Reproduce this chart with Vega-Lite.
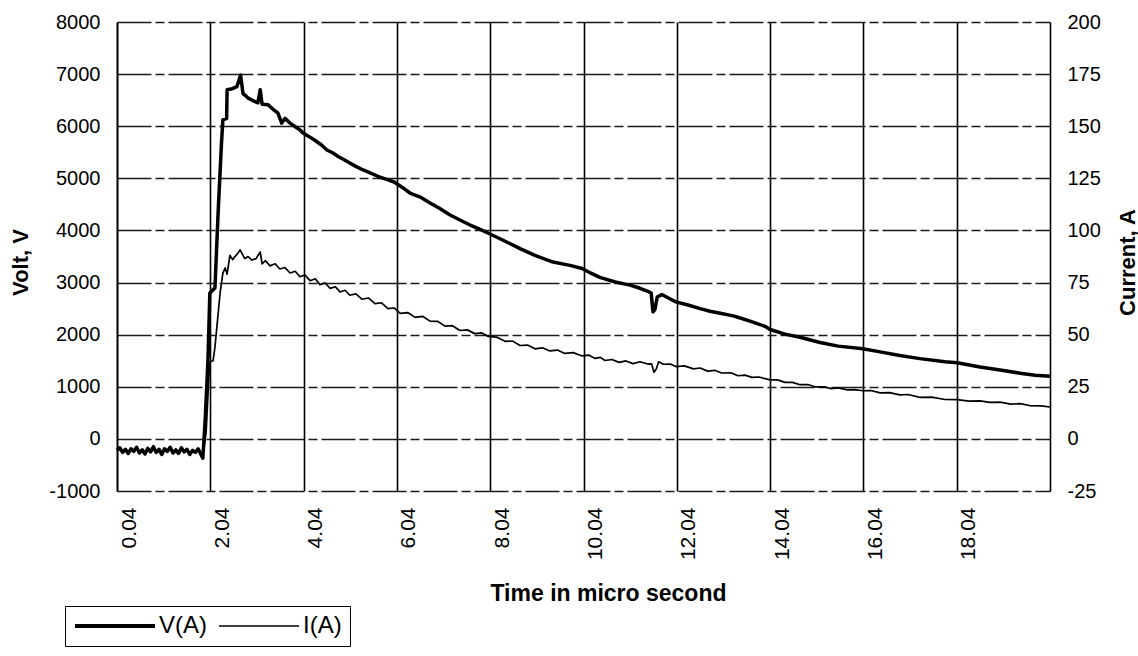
{
  "$schema": "https://vega.github.io/schema/vega-lite/v6.json",
  "width": 933,
  "height": 469,
  "autosize": {"type": "none"},
  "padding": {"left": 117, "top": 22, "right": 88, "bottom": 165},
  "background": "white",
  "config": {
    "font": "Liberation Sans",
    "view": {"stroke": null},
    "axis": {
      "labelFont": "Liberation Sans",
      "labelFontSize": 20,
      "labelColor": "black",
      "titleFont": "Liberation Sans",
      "titleFontSize": 22,
      "titleFontWeight": "bold",
      "titleColor": "black",
      "domainColor": "black",
      "domainWidth": 1.6,
      "ticks": false
    }
  },
  "datasets": {
    "d": [
      {"t":0.04,"s":"V(A)","v":-220},{"t":0.1,"s":"V(A)","v":-170},{"t":0.16,"s":"V(A)","v":-260},{"t":0.22,"s":"V(A)","v":-200},{"t":0.28,"s":"V(A)","v":-280},{"t":0.34,"s":"V(A)","v":-190},{"t":0.4,"s":"V(A)","v":-240},{"t":0.46,"s":"V(A)","v":-160},{"t":0.52,"s":"V(A)","v":-270},{"t":0.58,"s":"V(A)","v":-210},{"t":0.64,"s":"V(A)","v":-290},{"t":0.7,"s":"V(A)","v":-180},{"t":0.76,"s":"V(A)","v":-250},{"t":0.82,"s":"V(A)","v":-150},{"t":0.88,"s":"V(A)","v":-260},{"t":0.94,"s":"V(A)","v":-200},{"t":1.0,"s":"V(A)","v":-300},{"t":1.06,"s":"V(A)","v":-190},{"t":1.12,"s":"V(A)","v":-240},{"t":1.18,"s":"V(A)","v":-160},{"t":1.24,"s":"V(A)","v":-270},{"t":1.3,"s":"V(A)","v":-210},{"t":1.36,"s":"V(A)","v":-280},{"t":1.42,"s":"V(A)","v":-170},{"t":1.48,"s":"V(A)","v":-250},{"t":1.54,"s":"V(A)","v":-200},{"t":1.6,"s":"V(A)","v":-300},{"t":1.66,"s":"V(A)","v":-220},{"t":1.72,"s":"V(A)","v":-260},{"t":1.78,"s":"V(A)","v":-190},{"t":1.84,"s":"V(A)","v":-300},{"t":1.88,"s":"V(A)","v":-370},
      {"t":1.93,"s":"V(A)","v":360},{"t":1.99,"s":"V(A)","v":1510},{"t":2.03,"s":"V(A)","v":2800},{"t":2.10,"s":"V(A)","v":2860},{"t":2.14,"s":"V(A)","v":2900},{"t":2.21,"s":"V(A)","v":4390},{"t":2.28,"s":"V(A)","v":5680},{"t":2.31,"s":"V(A)","v":6120},{"t":2.39,"s":"V(A)","v":6150},{"t":2.40,"s":"V(A)","v":6700},{"t":2.51,"s":"V(A)","v":6720},{"t":2.61,"s":"V(A)","v":6760},{"t":2.69,"s":"V(A)","v":6980},{"t":2.74,"s":"V(A)","v":6630},{"t":2.85,"s":"V(A)","v":6540},{"t":3.00,"s":"V(A)","v":6470},{"t":3.06,"s":"V(A)","v":6450},{"t":3.11,"s":"V(A)","v":6700},{"t":3.15,"s":"V(A)","v":6420},{"t":3.28,"s":"V(A)","v":6410},{"t":3.38,"s":"V(A)","v":6330},{"t":3.49,"s":"V(A)","v":6250},{"t":3.57,"s":"V(A)","v":6060},{"t":3.64,"s":"V(A)","v":6150},{"t":3.75,"s":"V(A)","v":6060},{"t":3.86,"s":"V(A)","v":5990},{"t":3.96,"s":"V(A)","v":5930},{"t":4.03,"s":"V(A)","v":5870},{"t":4.16,"s":"V(A)","v":5800},{"t":4.28,"s":"V(A)","v":5730},{"t":4.41,"s":"V(A)","v":5650},{"t":4.54,"s":"V(A)","v":5544},{"t":4.66,"s":"V(A)","v":5490},{"t":4.78,"s":"V(A)","v":5420},{"t":4.90,"s":"V(A)","v":5360},{"t":5.03,"s":"V(A)","v":5294},{"t":5.16,"s":"V(A)","v":5230},{"t":5.29,"s":"V(A)","v":5170},{"t":5.43,"s":"V(A)","v":5120},{"t":5.57,"s":"V(A)","v":5064},{"t":5.68,"s":"V(A)","v":5020},{"t":5.79,"s":"V(A)","v":4990},{"t":5.98,"s":"V(A)","v":4930},{"t":6.15,"s":"V(A)","v":4830},{"t":6.32,"s":"V(A)","v":4718},{"t":6.54,"s":"V(A)","v":4640},{"t":6.75,"s":"V(A)","v":4526},{"t":6.96,"s":"V(A)","v":4420},{"t":7.18,"s":"V(A)","v":4296},{"t":7.39,"s":"V(A)","v":4200},{"t":7.61,"s":"V(A)","v":4104},{"t":7.80,"s":"V(A)","v":4030},{"t":7.99,"s":"V(A)","v":3951},{"t":8.25,"s":"V(A)","v":3840},{"t":8.46,"s":"V(A)","v":3750},{"t":8.68,"s":"V(A)","v":3650},{"t":9.00,"s":"V(A)","v":3520},{"t":9.36,"s":"V(A)","v":3400},{"t":9.75,"s":"V(A)","v":3330},{"t":10.01,"s":"V(A)","v":3270},{"t":10.20,"s":"V(A)","v":3180},{"t":10.39,"s":"V(A)","v":3100},{"t":10.72,"s":"V(A)","v":3010},{"t":11.04,"s":"V(A)","v":2950},{"t":11.25,"s":"V(A)","v":2890},{"t":11.42,"s":"V(A)","v":2830},{"t":11.49,"s":"V(A)","v":2800},{"t":11.53,"s":"V(A)","v":2440},{"t":11.57,"s":"V(A)","v":2480},{"t":11.62,"s":"V(A)","v":2720},{"t":11.72,"s":"V(A)","v":2770},{"t":11.89,"s":"V(A)","v":2690},{"t":12.02,"s":"V(A)","v":2630},{"t":12.28,"s":"V(A)","v":2570},{"t":12.54,"s":"V(A)","v":2500},{"t":12.75,"s":"V(A)","v":2450},{"t":12.97,"s":"V(A)","v":2410},{"t":13.25,"s":"V(A)","v":2360},{"t":13.40,"s":"V(A)","v":2320},{"t":13.61,"s":"V(A)","v":2260},{"t":13.93,"s":"V(A)","v":2160},{"t":14.04,"s":"V(A)","v":2100},{"t":14.36,"s":"V(A)","v":2010},{"t":14.68,"s":"V(A)","v":1950},{"t":15.11,"s":"V(A)","v":1850},{"t":15.50,"s":"V(A)","v":1780},{"t":16.03,"s":"V(A)","v":1730},{"t":16.40,"s":"V(A)","v":1670},{"t":16.82,"s":"V(A)","v":1600},{"t":17.25,"s":"V(A)","v":1540},{"t":17.79,"s":"V(A)","v":1480},{"t":18.05,"s":"V(A)","v":1460},{"t":18.54,"s":"V(A)","v":1380},{"t":18.97,"s":"V(A)","v":1320},{"t":19.40,"s":"V(A)","v":1260},{"t":19.72,"s":"V(A)","v":1220},{"t":20.04,"s":"V(A)","v":1200},
      {"t":0.04,"s":"I(A)","v":-5.8},{"t":0.1,"s":"I(A)","v":-4.5},{"t":0.16,"s":"I(A)","v":-6.8},{"t":0.22,"s":"I(A)","v":-5.2},{"t":0.28,"s":"I(A)","v":-7.2},{"t":0.34,"s":"I(A)","v":-4.8},{"t":0.4,"s":"I(A)","v":-6.2},{"t":0.46,"s":"I(A)","v":-4.2},{"t":0.52,"s":"I(A)","v":-6.9},{"t":0.58,"s":"I(A)","v":-5.3},{"t":0.64,"s":"I(A)","v":-7.3},{"t":0.7,"s":"I(A)","v":-4.6},{"t":0.76,"s":"I(A)","v":-6.4},{"t":0.82,"s":"I(A)","v":-4.0},{"t":0.88,"s":"I(A)","v":-6.6},{"t":0.94,"s":"I(A)","v":-5.0},{"t":1.0,"s":"I(A)","v":-7.4},{"t":1.06,"s":"I(A)","v":-4.9},{"t":1.12,"s":"I(A)","v":-6.0},{"t":1.18,"s":"I(A)","v":-4.1},{"t":1.24,"s":"I(A)","v":-6.8},{"t":1.3,"s":"I(A)","v":-5.3},{"t":1.36,"s":"I(A)","v":-7.1},{"t":1.42,"s":"I(A)","v":-4.4},{"t":1.48,"s":"I(A)","v":-6.3},{"t":1.54,"s":"I(A)","v":-5.1},{"t":1.6,"s":"I(A)","v":-7.5},{"t":1.66,"s":"I(A)","v":-5.6},{"t":1.72,"s":"I(A)","v":-6.6},{"t":1.78,"s":"I(A)","v":-4.9},{"t":1.84,"s":"I(A)","v":-7.4},{"t":1.88,"s":"I(A)","v":-8.5},
      {"t":1.95,"s":"I(A)","v":3},{"t":2.01,"s":"I(A)","v":30},{"t":2.03,"s":"I(A)","v":37},{"t":2.10,"s":"I(A)","v":37.5},{"t":2.14,"s":"I(A)","v":44},{"t":2.25,"s":"I(A)","v":70},{"t":2.31,"s":"I(A)","v":79.6},{"t":2.36,"s":"I(A)","v":82},{"t":2.40,"s":"I(A)","v":79},{"t":2.46,"s":"I(A)","v":88},{"t":2.52,"s":"I(A)","v":86},{"t":2.57,"s":"I(A)","v":87.5},{"t":2.63,"s":"I(A)","v":89},{"t":2.68,"s":"I(A)","v":90.7},{"t":2.73,"s":"I(A)","v":88.5},{"t":2.78,"s":"I(A)","v":86.5},{"t":2.85,"s":"I(A)","v":87.5},{"t":2.93,"s":"I(A)","v":85.8},{"t":3.02,"s":"I(A)","v":86.5},{"t":3.11,"s":"I(A)","v":89.7},{"t":3.15,"s":"I(A)","v":84},
      {"t":3.22,"s":"I(A)","v":85.5},{"t":3.32,"s":"I(A)","v":83},{"t":3.43,"s":"I(A)","v":84},{"t":3.53,"s":"I(A)","v":81.5},{"t":3.64,"s":"I(A)","v":82.2},{"t":3.75,"s":"I(A)","v":79.6},{"t":3.86,"s":"I(A)","v":80.4},{"t":3.96,"s":"I(A)","v":77.8},{"t":4.07,"s":"I(A)","v":78.6},{"t":4.18,"s":"I(A)","v":75.9},{"t":4.29,"s":"I(A)","v":76.8},{"t":4.39,"s":"I(A)","v":74.0},{"t":4.50,"s":"I(A)","v":74.8},{"t":4.61,"s":"I(A)","v":72.2},{"t":4.72,"s":"I(A)","v":73.0},{"t":4.82,"s":"I(A)","v":70.5},{"t":4.93,"s":"I(A)","v":71.3},{"t":5.03,"s":"I(A)","v":68.9},{"t":5.16,"s":"I(A)","v":69.6},{"t":5.29,"s":"I(A)","v":67.0},{"t":5.43,"s":"I(A)","v":67.6},{"t":5.57,"s":"I(A)","v":64.9},{"t":5.71,"s":"I(A)","v":65.3},{"t":5.85,"s":"I(A)","v":62.5},{"t":5.98,"s":"I(A)","v":62.8},{"t":6.11,"s":"I(A)","v":60.2},{"t":6.27,"s":"I(A)","v":60.6},{"t":6.43,"s":"I(A)","v":58.3},{"t":6.59,"s":"I(A)","v":58.8},{"t":6.75,"s":"I(A)","v":56.5},{"t":6.91,"s":"I(A)","v":56.4},{"t":7.07,"s":"I(A)","v":54.1},{"t":7.23,"s":"I(A)","v":54.3},{"t":7.39,"s":"I(A)","v":52.0},{"t":7.55,"s":"I(A)","v":52.3},{"t":7.71,"s":"I(A)","v":50.5},{"t":7.85,"s":"I(A)","v":50.9},{"t":7.99,"s":"I(A)","v":49.2},{"t":8.18,"s":"I(A)","v":48.8},{"t":8.36,"s":"I(A)","v":46.8},{"t":8.52,"s":"I(A)","v":46.9},{"t":8.68,"s":"I(A)","v":44.8},{"t":8.84,"s":"I(A)","v":45.0},{"t":9.00,"s":"I(A)","v":43.2},{"t":9.16,"s":"I(A)","v":43.7},{"t":9.32,"s":"I(A)","v":42.2},{"t":9.48,"s":"I(A)","v":42.6},{"t":9.64,"s":"I(A)","v":41.0},{"t":9.82,"s":"I(A)","v":41.4},{"t":10.01,"s":"I(A)","v":39.8},{"t":10.15,"s":"I(A)","v":40.2},{"t":10.29,"s":"I(A)","v":38.6},{"t":10.40,"s":"I(A)","v":39.1},{"t":10.50,"s":"I(A)","v":37.6},{"t":10.65,"s":"I(A)","v":38.1},{"t":10.80,"s":"I(A)","v":36.7},{"t":10.95,"s":"I(A)","v":37.4},{"t":11.10,"s":"I(A)","v":36.1},{"t":11.25,"s":"I(A)","v":37.0},{"t":11.42,"s":"I(A)","v":35.9},{"t":11.50,"s":"I(A)","v":36.0},{"t":11.55,"s":"I(A)","v":32.0},{"t":11.60,"s":"I(A)","v":33.5},{"t":11.65,"s":"I(A)","v":37.0},{"t":11.75,"s":"I(A)","v":35.8},{"t":11.90,"s":"I(A)","v":35.9},{"t":12.02,"s":"I(A)","v":34.7},{"t":12.20,"s":"I(A)","v":35.0},{"t":12.40,"s":"I(A)","v":33.6},{"t":12.54,"s":"I(A)","v":34.0},{"t":12.70,"s":"I(A)","v":32.5},{"t":12.85,"s":"I(A)","v":32.9},{"t":13.00,"s":"I(A)","v":31.6},{"t":13.20,"s":"I(A)","v":31.7},{"t":13.35,"s":"I(A)","v":30.3},{"t":13.50,"s":"I(A)","v":30.6},{"t":13.65,"s":"I(A)","v":29.5},{"t":13.80,"s":"I(A)","v":29.7},{"t":14.04,"s":"I(A)","v":28.3},{"t":14.20,"s":"I(A)","v":28.3},{"t":14.36,"s":"I(A)","v":27.1},{"t":14.52,"s":"I(A)","v":27.1},{"t":14.68,"s":"I(A)","v":26.0},{"t":14.85,"s":"I(A)","v":26.1},{"t":15.00,"s":"I(A)","v":25.0},{"t":15.20,"s":"I(A)","v":25.0},{"t":15.35,"s":"I(A)","v":24.1},{"t":15.50,"s":"I(A)","v":24.4},{"t":15.70,"s":"I(A)","v":23.5},{"t":15.85,"s":"I(A)","v":23.6},{"t":16.03,"s":"I(A)","v":23.1},{"t":16.20,"s":"I(A)","v":23.2},{"t":16.40,"s":"I(A)","v":22.1},{"t":16.60,"s":"I(A)","v":22.2},{"t":16.82,"s":"I(A)","v":21.1},{"t":17.00,"s":"I(A)","v":21.3},{"t":17.25,"s":"I(A)","v":19.9},{"t":17.50,"s":"I(A)","v":20.0},{"t":17.79,"s":"I(A)","v":18.9},{"t":18.05,"s":"I(A)","v":18.8},{"t":18.30,"s":"I(A)","v":18.1},{"t":18.54,"s":"I(A)","v":18.2},{"t":18.75,"s":"I(A)","v":17.5},{"t":18.97,"s":"I(A)","v":17.6},{"t":19.20,"s":"I(A)","v":16.7},{"t":19.40,"s":"I(A)","v":16.9},{"t":19.60,"s":"I(A)","v":16.0},{"t":19.85,"s":"I(A)","v":15.8},{"t":20.04,"s":"I(A)","v":15.3}
    ]
  },
  "data": {"name": "d"},
  "layer": [
    {
      "transform": [{"filter": "datum.s === 'V(A)'"}],
      "mark": {"type": "line", "strokeWidth": 3.5, "strokeJoin": "round"},
      "encoding": {
        "x": {
          "field": "t", "type": "quantitative",
          "scale": {"domain": [0.04, 20.04], "nice": false, "zero": false},
          "axis": {
            "values": [0.04, 2.04, 4.04, 6.04, 8.04, 10.04, 12.04, 14.04, 16.04, 18.04],
            "format": ".2f",
            "domain": false,
            "grid": true, "gridColor": "black", "gridWidth": 1.6,
            "labelAngle": 270, "labelAlign": "right", "labelBaseline": "middle",
            "labelPadding": 16, "labelOffset": 12, "labelFontSize": 21,
            "labelOverlap": false, "labelFlush": false, "labelBound": false,
            "title": "Time in micro second",
            "titleFontSize": 23, "titleX": 491, "titleY": 109,
            "titleAlign": "center", "titleBaseline": "alphabetic"
          }
        },
        "y": {
          "field": "v", "type": "quantitative",
          "scale": {"domain": [-1000, 8000], "nice": false, "zero": false},
          "axis": {
            "orient": "left",
            "values": [-1000, 0, 1000, 2000, 3000, 4000, 5000, 6000, 7000, 8000],
            "labelExpr": "'' + datum.value",
            "labelPadding": 17,
            "grid": true, "gridColor": "#1a1a1a", "gridWidth": 1.3, "gridDash": [34, 4, 9, 4],
            "title": "Volt, V",
            "titleAngle": 270, "titleX": -97, "titleY": 240,
            "titleAlign": "center", "titleBaseline": "middle"
          }
        },
        "color": {
          "field": "s", "type": "nominal",
          "scale": {"domain": ["V(A)", "I(A)"], "range": ["black", "black"]},
          "legend": {
            "orient": "none", "legendX": -52, "legendY": 584,
            "direction": "horizontal", "title": null,
            "symbolType": "M-1,0H7", "symbolSize": 400,
            "symbolStrokeColor": "black", "symbolStrokeWidth": 2,
            "labelFont": "Liberation Sans", "labelFontSize": 24, "labelColor": "black",
            "labelOffset": 62, "columnPadding": 8, "padding": 8,
            "strokeColor": "black",
            "encode": {"symbols": {"update": {"strokeWidth": {"signal": "datum.value === 'V(A)' ? 4 : 1.6"}}}}
          }
        }
      }
    },
    {
      "transform": [{"filter": "datum.s === 'I(A)'"}],
      "mark": {"type": "line", "strokeWidth": 1.7, "strokeJoin": "round"},
      "encoding": {
        "x": {
          "field": "t", "type": "quantitative",
          "scale": {"domain": [0.04, 20.04], "nice": false, "zero": false},
          "axis": {
            "values": [0.04, 2.04, 4.04, 6.04, 8.04, 10.04, 12.04, 14.04, 16.04, 18.04],
            "format": ".2f",
            "domain": false,
            "grid": true, "gridColor": "black", "gridWidth": 1.6,
            "labelAngle": 270, "labelAlign": "right", "labelBaseline": "middle",
            "labelPadding": 16, "labelOffset": 12, "labelFontSize": 21,
            "labelOverlap": false, "labelFlush": false, "labelBound": false,
            "title": "Time in micro second",
            "titleFontSize": 23, "titleX": 491, "titleY": 109,
            "titleAlign": "center", "titleBaseline": "alphabetic"
          }
        },
        "y": {
          "field": "v", "type": "quantitative",
          "scale": {"domain": [-25, 200], "nice": false, "zero": false},
          "axis": {
            "orient": "right",
            "values": [-25, 0, 25, 50, 75, 100, 125, 150, 175, 200],
            "labelExpr": "'' + datum.value",
            "labelPadding": 17,
            "grid": false,
            "title": "Current, A",
            "titleAngle": 270, "titleX": 77, "titleY": 240,
            "titleAlign": "center", "titleBaseline": "middle"
          }
        },
        "color": {
          "field": "s", "type": "nominal",
          "scale": {"domain": ["V(A)", "I(A)"], "range": ["black", "black"]}
        }
      }
    }
  ],
  "resolve": {"scale": {"y": "independent"}}
}
